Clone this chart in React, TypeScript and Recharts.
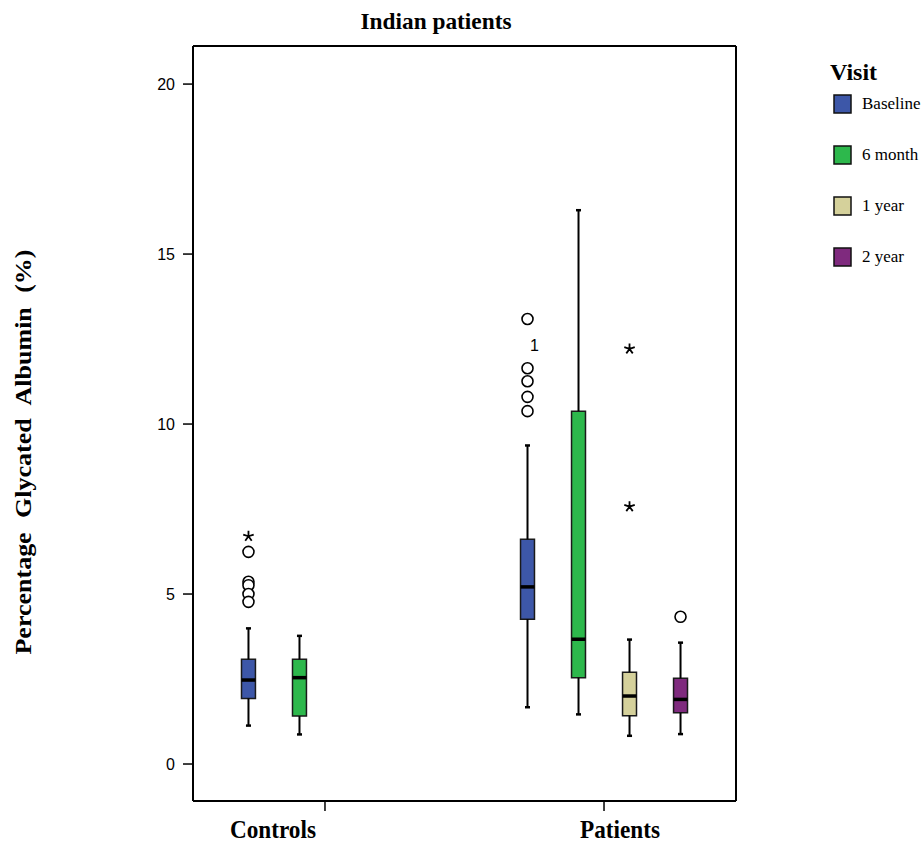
import React from 'react';
import { ComposedChart, XAxis, YAxis, Scatter, ReferenceArea, ReferenceLine, Customized } from 'recharts';

const CATEGORIES = ['Controls', 'Patients'];
const VISITS = ['Baseline', '6 month', '1 year', '2 year'];
const VISIT_COLORS = ['#3d57a8', '#2db84c', '#d5d19b', '#7f2a7e'];
const Y_TICKS = [0, 5, 10, 15, 20];

// one entry per drawn box
const BOX_CATEGORY = [0, 0, 1, 1, 1, 1];
const BOX_VISIT = [0, 1, 0, 1, 2, 3];
const WHISKER_LOW = [1.13, 0.87, 1.67, 1.46, 0.83, 0.88];
const Q1 = [1.93, 1.41, 4.26, 2.54, 1.42, 1.51];
const MEDIAN = [2.47, 2.54, 5.21, 3.67, 2.0, 1.9];
const Q3 = [3.08, 3.08, 6.61, 10.38, 2.7, 2.52];
const WHISKER_HIGH = [3.99, 3.77, 9.37, 16.29, 3.66, 3.57];

// outliers (circles) and extremes (stars), by box index
const CIRCLE_BOX = [0, 0, 0, 0, 0, 2, 2, 2, 2, 2, 5];
const CIRCLE_VALUE = [6.24, 5.36, 5.26, 5.0, 4.77, 13.09, 11.64, 11.26, 10.8, 10.38, 4.33];
const STAR_BOX = [0, 4, 4];
const STAR_VALUE = [6.7, 12.21, 7.57];
const CASE_LABEL_BOX = [2];
const CASE_LABEL_VALUE = [12.32];
const CASE_LABEL_TEXT = ['1'];

// axis ranges and box geometry (x units: category 1 = Controls, 2 = Patients)
const X_MIN = 0.527;
const X_MAX = 2.473;
const Y_MIN = -1.088;
const Y_MAX = 21.12;
const SLOT = 0.1828;
const HALF = 0.025;
const CAP = 0.009;
const LABEL_SHIFT = [-52, 16];

const serif = '"Liberation Serif", "Times New Roman", serif';
const sans = '"Liberation Sans", Arial, sans-serif';

const boxX = (i: number) => BOX_CATEGORY[i] + 1 + (BOX_VISIT[i] - 1.5) * SLOT;

const circles = CIRCLE_BOX.map((b, k) => ({ x: boxX(b), y: CIRCLE_VALUE[k] }));
const stars = STAR_BOX.map((b, k) => ({ x: boxX(b), y: STAR_VALUE[k] }));
const caseLabels = CASE_LABEL_BOX.map((b, k) => ({ x: boxX(b), y: CASE_LABEL_VALUE[k], text: CASE_LABEL_TEXT[k] }));

const CircleShape = (p: any) => (
  <circle cx={p.cx} cy={p.cy} r={5.5} fill="#fff" stroke="#000" strokeWidth={1.6} />
);

const StarShape = (p: any) => {
  const r = 5.5;
  const d = [-90, -18, 54, 126, 198]
    .map((a) => {
      const t = (a * Math.PI) / 180;
      return `M${p.cx},${p.cy}L${p.cx + r * Math.cos(t)},${p.cy + r * Math.sin(t)}`;
    })
    .join('');
  return <path d={d} stroke="#000" strokeWidth={1.8} fill="none" />;
};

const CaseLabelShape = (p: any) => (
  <text x={p.cx + 7} y={p.cy} dy="0.35em" textAnchor="middle" fontFamily={sans} fontSize={16} fill="#000">
    {p.payload.text}
  </text>
);

const CategoryTick = (p: any) => {
  const idx = p.payload.value - 1;
  return (
    <text
      x={p.x + LABEL_SHIFT[idx]}
      y={838}
      textAnchor="middle"
      fontFamily={serif}
      fontWeight="bold"
      fontSize={25}
      textLength={idx === 0 ? 86 : 80}
      lengthAdjust="spacingAndGlyphs"
      fill="#000"
    >
      {CATEGORIES[idx]}
    </text>
  );
};

const Decorations = () => (
  <g>
    <text x={436} y={29} textAnchor="middle" fontFamily={serif} fontWeight="bold" fontSize={24} textLength={151} lengthAdjust="spacingAndGlyphs" fill="#000">
      Indian patients
    </text>
    <text
      transform="translate(31,452) rotate(-90)"
      x={0}
      y={0}
      textAnchor="middle"
      fontFamily={serif}
      fontWeight="bold"
      fontSize={23}
      textLength={405}
      lengthAdjust="spacingAndGlyphs"
      fill="#000"
      style={{ wordSpacing: '7px' }}
    >
      Percentage Glycated Albumin (%)
    </text>
    <text x={830} y={80} fontFamily={serif} fontWeight="bold" fontSize={24} fill="#000">
      Visit
    </text>
    {VISITS.map((v, i) => {
      const cy = 104 + i * 51;
      return (
        <g key={v}>
          <rect x={834} y={cy - 9} width={17} height={18} fill={VISIT_COLORS[i]} stroke="#111" strokeWidth={1.5} />
          <text x={862} y={cy + 5} fontFamily={serif} fontSize={17} fill="#000">
            {v}
          </text>
        </g>
      );
    })}
  </g>
);

export default function App() {
  return (
    <div style={{ position: 'absolute', left: 0, top: 0, background: '#fff' }}>
      <ComposedChart width={923} height={846} margin={{ top: 46, right: 187, bottom: 0, left: 133 }}>
        <XAxis
          type="number"
          dataKey="x"
          domain={[X_MIN, X_MAX]}
          allowDataOverflow
          ticks={[1, 2]}
          tick={CategoryTick}
          tickSize={10}
          tickLine={{ stroke: '#000', strokeWidth: 1.5 }}
          axisLine={{ stroke: '#000', strokeWidth: 2 }}
          height={45}
        />
        <YAxis
          type="number"
          dataKey="y"
          domain={[Y_MIN, Y_MAX]}
          allowDataOverflow
          ticks={Y_TICKS}
          tickSize={10}
          tickMargin={8}
          width={60}
          tick={{ fill: '#000', fontSize: 16, fontFamily: sans }}
          tickLine={{ stroke: '#000', strokeWidth: 1.5 }}
          axisLine={{ stroke: '#000', strokeWidth: 2 }}
        />
        <ReferenceLine y={Y_MAX} stroke="#000" strokeWidth={2} ifOverflow="visible" />
        <ReferenceLine x={X_MAX} stroke="#000" strokeWidth={2} ifOverflow="visible" />

        {MEDIAN.map((_, i) => {
          const x = boxX(i);
          return [
            <ReferenceLine key={`wl${i}`} segment={[{ x, y: WHISKER_LOW[i] }, { x, y: Q1[i] }]} stroke="#000" strokeWidth={2} />,
            <ReferenceLine key={`wh${i}`} segment={[{ x, y: Q3[i] }, { x, y: WHISKER_HIGH[i] }]} stroke="#000" strokeWidth={2} />,
            <ReferenceLine key={`cl${i}`} segment={[{ x: x - CAP, y: WHISKER_LOW[i] }, { x: x + CAP, y: WHISKER_LOW[i] }]} stroke="#000" strokeWidth={2.5} />,
            <ReferenceLine key={`ch${i}`} segment={[{ x: x - CAP, y: WHISKER_HIGH[i] }, { x: x + CAP, y: WHISKER_HIGH[i] }]} stroke="#000" strokeWidth={2.5} />,
            <ReferenceArea
              key={`b${i}`}
              x1={x - HALF}
              x2={x + HALF}
              y1={Q1[i]}
              y2={Q3[i]}
              fill={VISIT_COLORS[BOX_VISIT[i]]}
              fillOpacity={1}
              stroke="#1a1a1a"
              strokeWidth={1.5}
            />,
            <ReferenceLine key={`m${i}`} segment={[{ x: x - HALF, y: MEDIAN[i] }, { x: x + HALF, y: MEDIAN[i] }]} stroke="#000" strokeWidth={3.5} />,
          ];
        })}

        <Scatter data={circles} dataKey="y" shape={CircleShape} isAnimationActive={false} />
        <Scatter data={stars} dataKey="y" shape={StarShape} isAnimationActive={false} />
        <Scatter data={caseLabels} dataKey="y" shape={CaseLabelShape} isAnimationActive={false} />
        <Customized component={Decorations} />
      </ComposedChart>
    </div>
  );
}
